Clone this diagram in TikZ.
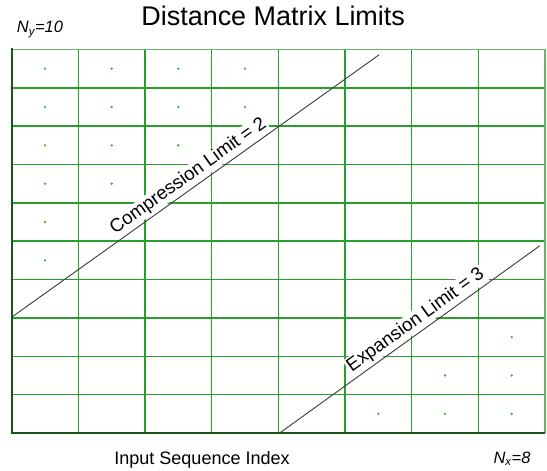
\documentclass[tikz,border=0pt]{standalone}
\usepackage{fontspec}
\setmainfont{Liberation Sans}
\usepackage{tikz}
\usetikzlibrary{positioning}

\definecolor{gridgreen}{RGB}{40,160,40}
\definecolor{edgegreen}{RGB}{100,185,100}
\definecolor{axisgreen}{RGB}{25,85,25}
\definecolor{dotgreen}{RGB}{60,170,60}

\begin{document}
\begin{tikzpicture}[
   x=2cm,y=1.1505cm,
   every node/.style={font=\fontsize{14pt}{16pt}\selectfont},
   cellline/.style={draw=gridgreen,line width=1.3pt},
   border/.style={draw=edgegreen,line width=1.3pt},
   axis/.style={draw=axisgreen,line width=1.6pt},
   dotcell/.style={fill=dotgreen},
   limit/.style={draw=black!75,line width=.8pt},
   limitlabel/.style={fill=white,inner sep=1pt,sloped,above=1.5pt,
     font=\fontsize{16pt}{18pt}\selectfont}
 ]
  \useasboundingbox (-0.1755,-0.9909) rectangle (8.0295,11.2907);

  % The 8 x 10 cells of the matrix.
  \foreach \i in {1,...,7}
    \draw[cellline] (\i,0) -- (\i,10);
  \foreach \j in {1,...,9}
    \draw[cellline] (0,\j) -- (8,\j);
  \draw[border] (0,10) -- (8,10) -- (8,0);

  % Cells that stay inside the limits.
  \foreach \c/\r in {1/1,2/1,3/1,4/1,1/2,2/2,3/2,4/2,1/3,2/3,3/3,
                     1/4,2/4,1/5,1/6,8/8,7/9,8/9,6/10,7/10,8/10}
    \fill[dotcell] (\c-.5,10.5-\r) circle (1.1pt);

  % The two limit lines with their labels.
  \coordinate (comp0) at (0,3.02);
  \coordinate (comp1) at (5.51,9.86);
  \coordinate (exp0) at (4.02,0);
  \coordinate (exp1) at (7.92,4.88);
  \path (comp0) -- node[limitlabel,pos=.5] (complabel) {Compression Limit = 2} (comp1);
  \path (exp0) -- node[limitlabel,pos=.55] (explabel) {Expansion Limit = 3} (exp1);
  \draw[limit] (comp0) -- (comp1);
  \draw[limit] (exp0) -- (exp1);

  % Axes along the left and bottom sides.
  \draw[axis] (0,10.05) -- (0,0) -- (8,0);

  \node[anchor=base,font=\fontsize{23pt}{26pt}\selectfont] (title) at (3.922,10.613) {Distance Matrix Limits};
  \node[anchor=base west,inner sep=0pt] (ny) at (0.075,10.438) {\itshape N\textsubscript{y}=10};
  \node[anchor=base,font=\fontsize{15.4pt}{18pt}\selectfont] (xlabel) at (2.855,-0.834) {Input Sequence Index};
  \node[anchor=base west,inner sep=0pt] (nx) at (7.224,-0.79) {\itshape N\textsubscript{x}=8};
\end{tikzpicture}
\end{document}
